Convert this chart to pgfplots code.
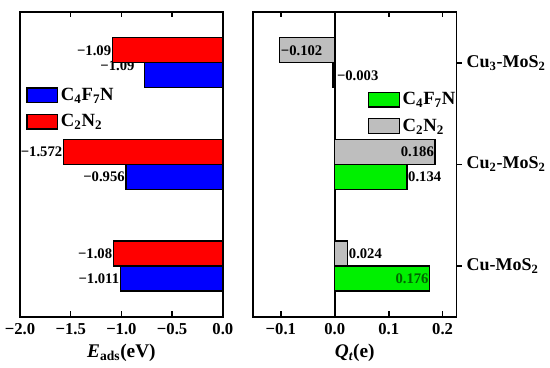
\documentclass[border=0pt]{standalone}
\usepackage{pgfplots}
\pgfplotsset{compat=1.18}
\usepackage{pgfplotstable}
\usepackage{fontspec}
\setmainfont{Liberation Serif}
\definecolor{myblue}{RGB}{0,0,255}
\definecolor{myred}{RGB}{255,0,0}
\definecolor{mygreen}{RGB}{0,240,0}
\definecolor{mygray}{RGB}{190,190,190}
\definecolor{dgreen}{RGB}{0,100,0}

\pgfplotstableread{
cat c4f7n c2n2
0 -1.011 -1.08
1 -0.956 -1.572
2 -0.77 -1.09
}\leftdata
\pgfplotstableread{
cat c4f7n c2n2
0 0.176 0.024
1 0.134 0.186
2 -0.003 -0.102
}\rightdata

\tikzset{lbl/.style={font=\fontsize{11}{13}\selectfont\bfseries, inner sep=0.7pt}}

\begin{document}
\begin{tikzpicture}[font=\bfseries]
\path (-15pt,-38.25pt) rectangle (397.5pt,237.75pt);
\pgfplotsset{
  common/.style={
    scale only axis, height=228.75pt, xbar, bar width=18.75pt,
    ymin=-0.5, ymax=2.5,
    axis line style={line width=1.2pt},
    xtick align=inside, major tick length=4pt,
    tick style={line width=1.2pt, black},
    every tick label/.append style={font=\fontsize{12.5}{14}\selectfont\bfseries},
    xticklabel style={yshift=-1.5pt},
    label style={font=\fontsize{14.5}{16}\selectfont\bfseries},
    legend image code/.code={\draw[##1, line width=1pt] (0pt,-5.5pt) rectangle (23pt,5.5pt);},
    legend style={draw=none, fill=none, font=\fontsize{14}{16}\selectfont\bfseries, row sep=5pt, anchor=north west, inner sep=0pt},
    legend cell align=left,
  },
}
\begin{axis}[common, at={(0pt,0pt)}, anchor=south west, width=152.25pt,
  xmin=-2, xmax=0, xtick={-2,-1.5,-1,-0.5,0},
  xticklabels={−2.0,−1.5,−1.0,−0.5,0.0},
  ytick=\empty,
  xlabel={\textit{E}\textsubscript{ads}(eV)},
  legend style={at={(0.03,0.76)}},
]
\addplot[fill=myblue, draw=black, line width=1pt, bar shift=-9.375pt] table[x=c4f7n, y=cat] {\leftdata};
\addlegendentry{C\textsubscript{4}F\textsubscript{7}N}
\node[lbl, anchor=east] at (axis cs:-0.86,1.97) {−1.09};
\addplot[fill=myred, draw=black, line width=1pt, bar shift=9.375pt] table[x=c2n2, y=cat] {\leftdata};
\addlegendentry{C\textsubscript{2}N\textsubscript{2}}
\node[lbl, anchor=east] at (axis cs:-1.09,2.123) {−1.09};
\node[lbl, anchor=east] at (axis cs:-1.572,1.123) {−1.572};
\node[lbl, anchor=east] at (axis cs:-0.956,0.877) {−0.956};
\node[lbl, anchor=east] at (axis cs:-1.08,0.123) {−1.08};
\node[lbl, anchor=east] at (axis cs:-1.011,-0.123) {−1.011};
\end{axis}

\begin{axis}[common, at={(174.75pt,0pt)}, anchor=south west, width=153pt,
  xmin=-0.152, xmax=0.226, xtick={-0.1,0,0.1,0.2},
  xticklabels={−0.1,0.0,0.1,0.2},
  extra x ticks={0}, extra x tick labels={},
  extra x tick style={grid=major, major grid style={black, line width=1.2pt}},
  ytick={0,1,2},
  yticklabels={Cu-MoS\textsubscript{2},Cu\textsubscript{2}-MoS\textsubscript{2},Cu\textsubscript{3}-MoS\textsubscript{2}},
  ytick pos=right, yticklabel pos=right, ytick align=outside,
  yticklabel style={font=\fontsize{13.5}{15}\selectfont\bfseries},
  xlabel={\textit{Q\textsubscript{t}}(e)},
  legend style={at={(0.564,0.745)}},
]
\addplot[fill=mygreen, draw=black, line width=1pt, bar shift=-9.375pt] table[x=c4f7n, y=cat] {\rightdata};
\addlegendentry{C\textsubscript{4}F\textsubscript{7}N}
\addplot[fill=mygray, draw=black, line width=1pt, bar shift=9.375pt] table[x=c2n2, y=cat] {\rightdata};
\addlegendentry{C\textsubscript{2}N\textsubscript{2}}
\node[lbl, anchor=west] at (axis cs:-0.102,2.123) {−0.102};
\node[lbl, anchor=west] at (axis cs:0.002,1.877) {−0.003};
\node[lbl, anchor=east] at (axis cs:0.186,1.123) {0.186};
\node[lbl, anchor=west] at (axis cs:0.134,0.877) {0.134};
\node[lbl, anchor=west] at (axis cs:0.024,0.123) {0.024};
\node[lbl, anchor=east, text=dgreen] at (axis cs:0.176,-0.123) {0.176};
\end{axis}
\end{tikzpicture}
\end{document}
